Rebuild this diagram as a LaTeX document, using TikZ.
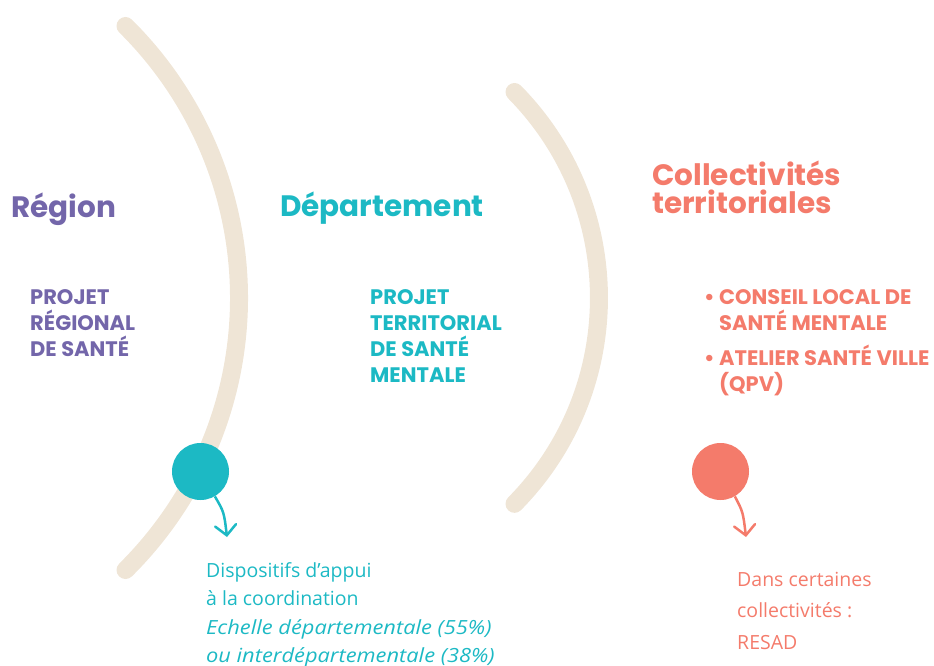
\documentclass[tikz,border=0pt]{standalone}
\usepackage{fontspec}
\setmainfont{Open Sans}[ItalicFeatures={FakeStretch=1.12}]
\newfontfamily\pop{Poppins}
\usetikzlibrary{arrows.meta}
\definecolor{cpurple}{HTML}{7366AA}
\definecolor{cteal}{HTML}{1CB9C4}
\definecolor{csalmon}{HTML}{F47B6B}
\definecolor{cbeige}{HTML}{EFE5D6}
\tikzset{
  arcline/.style={draw=cbeige,line width=18pt,line cap=round},
  title/.style={anchor=base west,inner sep=0pt,font=\pop\bfseries\fontsize{29.5}{28}\selectfont,align=left},
  item/.style={anchor=base west,inner sep=0pt,font=\pop\bfseries\fontsize{21}{26}\selectfont,align=left},
  body/.style={anchor=base west,inner sep=0pt,font=\fontsize{19.5}{28.5}\selectfont,align=left},
  dot/.style={circle,inner sep=0pt,minimum size=57pt},
  arr/.style={line width=2.5pt,-{Straight Barb[length=10pt,width=21pt,line cap=round]}}
}
\begin{document}
\begin{tikzpicture}[x=1pt,y=-1pt]
\useasboundingbox (0,0) rectangle (934,666);
% arcs
\draw[arcline] (125.5,26) arc[start angle=45.3,end angle=-45.3,radius=382.7pt];
\draw[arcline] (514.5,92) arc[start angle=44.6,end angle=-44.6,radius=293.3pt];
% titles (anchor = baseline of the last line)
\node[title,text=cpurple] (region) at (11,217) {Région};
\node[title,text=cteal] (dept) at (280,216) {Département};
\node[title,text=csalmon] (coll) at (652,213) {Collectivités\\territoriales};
% items
\node[item,text=cpurple] (prs) at (30,356) {PROJET\\RÉGIONAL\\DE SANTÉ};
\node[item,text=cteal] (ptsm) at (370,382) {PROJET\\TERRITORIAL\\DE SANTÉ\\MENTALE};
\node[item,text=csalmon] (b1) at (704,330) {\textbullet\ CONSEIL LOCAL DE\\\hphantom{\textbullet\ }SANTÉ MENTALE};
\node[item,text=csalmon] (b2) at (704,391) {\textbullet\ ATELIER SANTÉ VILLE\\\hphantom{\textbullet\ }(QPV)};
% dots
\node[dot,fill=cteal] (c1) at (200.5,471.5) {};
\node[dot,fill=csalmon] (c2) at (720.5,471.5) {};
\coordinate (a1) at (227,537);
\coordinate (a2) at (746,537);
\draw[arr,draw=cteal] (c1.-60) .. controls (224,512) .. (a1);
\draw[arr,draw=csalmon] (c2.-60) .. controls (743,512) .. (a2);
% bottom texts
\node[body,text=cteal] (dac) at (206,662.5) {Dispositifs d’appui\\à la coordination\\\textit{Echelle départementale (55\%)}\\\textit{ou interdépartementale (38\%)}};
\node[body,text=csalmon,font=\fontsize{19.5}{31.5}\selectfont] (resad) at (737,649) {Dans certaines\\collectivités :\\RESAD};
\end{tikzpicture}
\end{document}
